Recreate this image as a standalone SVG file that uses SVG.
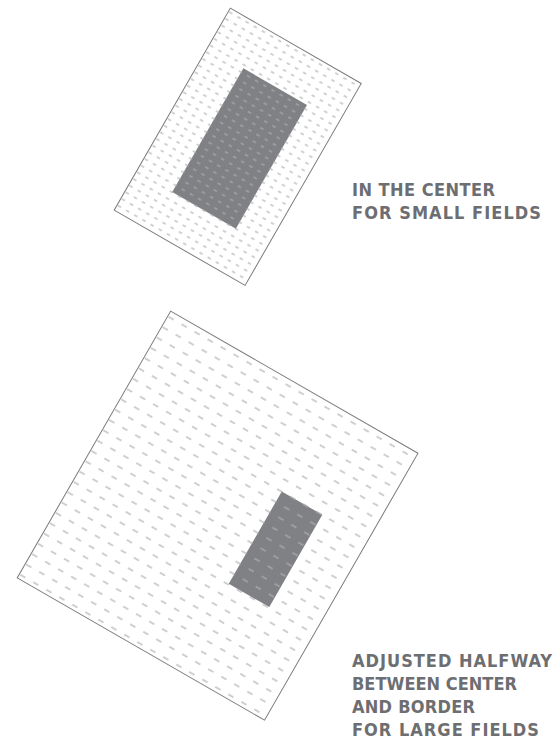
<svg xmlns="http://www.w3.org/2000/svg" width="558" height="742" viewBox="0 0 558 742">
  <defs>
    <pattern id="dashSmall" patternUnits="userSpaceOnUse" x="-75.5" y="-116.5" width="9.4" height="7.7">
      <line x1="1" y1="3.85" x2="4.6" y2="3.85" stroke="#9c9ca0" stroke-width="0.9"/>
    </pattern>
    <pattern id="dashSmallLight" patternUnits="userSpaceOnUse" x="-75.5" y="-116.5" width="9.4" height="7.7">
      <line x1="1" y1="3.85" x2="4.6" y2="3.85" stroke="#b9b9bc" stroke-width="0.9"/>
    </pattern>
    <pattern id="dashLarge" patternUnits="userSpaceOnUse" x="-142.65" y="-153.9" width="15" height="11.9">
      <line x1="1" y1="6" x2="7" y2="6" stroke="#a0a0a3" stroke-width="1"/>
    </pattern>
    <pattern id="dashLargeLight" patternUnits="userSpaceOnUse" x="-142.65" y="-153.9" width="15" height="11.9">
      <line x1="1" y1="6" x2="7" y2="6" stroke="#b9b9bc" stroke-width="1"/>
    </pattern>
  </defs>
  <style>
    .field { fill: #ffffff; stroke: #7b7b7e; stroke-width: 1; }
    .core { fill: #808184; stroke: none; }
    .label { font-family: "Liberation Sans Narrow", "DejaVu Sans Condensed", "Liberation Sans", sans-serif; font-weight: bold; font-size: 18px; fill: #6d6e71; }
  </style>

  <g id="small-field" transform="translate(237.7,146.8) rotate(29.9)">
    <rect class="field" x="-75.5" y="-116.5" width="151" height="233"/>
    <rect x="-75.5" y="-116.5" width="151" height="233" fill="url(#dashSmall)"/>
    <rect class="core" x="-34.2" y="-70.85" width="73.4" height="142.7"/>
    <rect x="-34.2" y="-70.85" width="73.4" height="142.7" fill="url(#dashSmallLight)"/>
  </g>

  <g id="large-field" transform="translate(217.6,515.6) rotate(29.9)">
    <rect class="field" x="-142.65" y="-153.9" width="285.3" height="307.8"/>
    <rect x="-142.65" y="-153.9" width="285.3" height="307.8" fill="url(#dashLarge)"/>
    <rect class="core" x="43.6" y="-52.9" width="46.8" height="106.4"/>
    <rect x="43.6" y="-52.9" width="46.8" height="106.4" fill="url(#dashLargeLight)"/>
  </g>

  <g id="label-small">
    <text class="label" x="352" y="196" textLength="143" lengthAdjust="spacing">IN THE CENTER</text>
    <text class="label" x="352" y="219.3" textLength="189" lengthAdjust="spacing">FOR SMALL FIELDS</text>
  </g>

  <g id="label-large">
    <text class="label" x="352" y="666.7" textLength="200" lengthAdjust="spacing">ADJUSTED HALFWAY</text>
    <text class="label" x="352" y="689.6" textLength="165" lengthAdjust="spacing">BETWEEN CENTER</text>
    <text class="label" x="352" y="712.8" textLength="123" lengthAdjust="spacing">AND BORDER</text>
    <text class="label" x="352" y="736.3" textLength="187" lengthAdjust="spacing">FOR LARGE FIELDS</text>
  </g>
</svg>
